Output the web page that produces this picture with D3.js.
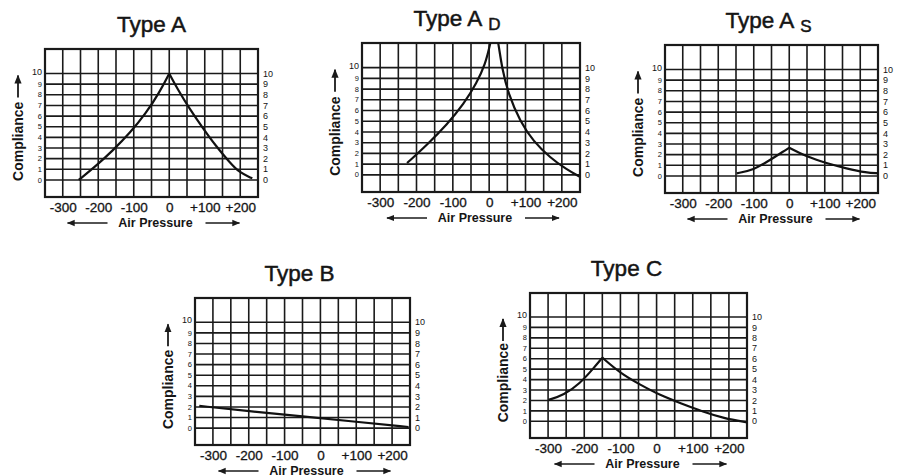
<html>
<head>
  <style>
    body {
      margin: 0;
      background: #ffffff;
    }
    svg text {
      font-family: "Liberation Sans", Arial, Helvetica, sans-serif;
      fill: #151515;
    }
  </style>
</head>
<body>
  <div id="chart"></div>
  <script src="https://d3js.org/d3.v7.min.js"></script>
  <script>
    // tick values shared by all five tympanograms
    var pressureTicks = [-300, -200, -100, 0, 100, 200];
    var complianceTicks = [0, 1, 2, 3, 4, 5, 6, 7, 8, 9, 10];
    var gridPressure = d3.range(-350, 251, 50);

    // curves (air pressure in daPa, compliance units)
    var typeAPressure = [-255, -205, -158, -111, -65, -28, 0, 24, 57, 94, 131, 169, 197, 234];
    var typeACompliance = [0, 1.35, 2.8, 4.4, 6.3, 8.2, 10, 8.5, 6.7, 4.9, 3.2, 1.7, 0.7, 0.15];

    var typeADPressure = [-226, -171, -116, -70, -34, -11, 3, 14, 26, 35, 53, 85, 122, 168, 213, 248];
    var typeADCompliance = [1.1, 2.8, 4.7, 6.6, 8.6, 10.3, 12.2, 14.2, 12.2, 10, 7.5, 5.0, 3.1, 1.6, 0.5, -0.15];

    var typeASPressure = [-148, -101, -54, -17, 0, 49, 105, 161, 218, 250];
    var typeASCompliance = [0.25, 0.55, 1.5, 2.3, 2.65, 1.8, 1.2, 0.7, 0.3, 0.25];

    var typeBPressure = [-338, -200, -50, 100, 246];
    var typeBCompliance = [2.1, 1.6, 1.1, 0.6, 0.1];

    var typeCPressure = [-299, -257, -211, -174, -150, -100, -45, 10, 65, 130, 185, 250];
    var typeCCompliance = [2.05, 2.5, 3.65, 5.1, 6.1, 4.6, 3.5, 2.5, 1.75, 0.9, 0.3, -0.1];

    var panels = [
      { title: "Type A", sub: "", x: 45, y: 49, w: 213, h: 148, dx: 0, px: typeAPressure, py: typeACompliance },
      { title: "Type A", sub: "D", x: 362, y: 43, w: 218, h: 149, dx: -14, px: typeADPressure, py: typeADCompliance },
      { title: "Type A", sub: "S", x: 665, y: 45, w: 213, h: 148, dx: -3, px: typeASPressure, py: typeASCompliance },
      { title: "Type B", sub: "", x: 195, y: 298, w: 215, h: 147, dx: -3, px: typeBPressure, py: typeBCompliance },
      { title: "Type C", sub: "", x: 530, y: 293, w: 217, h: 145, dx: -12, px: typeCPressure, py: typeCCompliance }
    ];

    var width = 897,
        height = 476,
        ink = "#1a1a1a";

    var svg = d3.select("#chart")
      .append("svg")
      .attr("width", width)
      .attr("height", height);

    var defs = svg.append("defs");
    defs.append("marker")
      .attr("id", "head")
      .attr("viewBox", "0 0 10 10")
      .attr("refX", 9)
      .attr("refY", 5)
      .attr("markerWidth", 5)
      .attr("markerHeight", 5)
      .attr("orient", "auto")
      .append("path")
      .attr("d", "M0,1 L10,5 L0,9 Z")
      .attr("fill", ink);

    panels.forEach(function (p, i) {
      var x = d3.scaleLinear().domain([-350, 250]).range([0, p.w]);
      var y = d3.scaleLinear().domain([-1.6, 12.3]).range([p.h, 0]);

      var g = svg.append("g").attr("transform", "translate(" + p.x + "," + p.y + ")");

      defs.append("clipPath")
        .attr("id", "clip" + i)
        .append("rect")
        .attr("width", p.w)
        .attr("height", p.h);

      // grid
      g.selectAll(".vline")
        .data(gridPressure)
        .enter().append("line")
        .attr("x1", function (d) { return x(d); })
        .attr("x2", function (d) { return x(d); })
        .attr("y1", 0)
        .attr("y2", p.h)
        .attr("stroke", ink)
        .attr("stroke-width", 1.6);

      g.selectAll(".hline")
        .data(complianceTicks)
        .enter().append("line")
        .attr("x1", 0)
        .attr("x2", p.w)
        .attr("y1", function (d) { return y(d); })
        .attr("y2", function (d) { return y(d); })
        .attr("stroke", ink)
        .attr("stroke-width", 1.6);

      g.append("rect")
        .attr("width", p.w)
        .attr("height", p.h)
        .attr("fill", "none")
        .attr("stroke", ink)
        .attr("stroke-width", 2.2);

      // left and right compliance labels
      g.selectAll(".ly")
        .data(complianceTicks)
        .enter().append("text")
        .attr("x", -3)
        .attr("y", function (d) { return y(d) - (d == 10 ? 2 : 0); })
        .attr("dy", "0.35em")
        .attr("text-anchor", "end")
        .attr("font-size", function (d) { return d == 10 ? 9 : 7.5; })
        .text(function (d) { return d; });

      g.selectAll(".ry")
        .data(complianceTicks)
        .enter().append("text")
        .attr("x", 5)
        .attr("y", function (d) { return y(d); })
        .attr("transform", "translate(" + p.w + ",0)")
        .attr("dy", "0.35em")
        .attr("font-size", 9)
        .text(function (d) { return d; });

      // bottom axis labels
      var axis = d3.axisBottom(x)
        .tickValues(pressureTicks)
        .tickSize(0)
        .tickPadding(5)
        .tickFormat(function (d) { return d > 0 ? "+" + d : String(d); });

      var ax = g.append("g")
        .attr("transform", "translate(0," + p.h + ")")
        .call(axis);
      ax.select(".domain").remove();
      ax.selectAll("text")
        .attr("font-size", 13.5)
        .attr("font-family", "'Liberation Sans', Arial, sans-serif")
        .attr("fill", "#151515")
        .attr("stroke", "#151515")
        .attr("stroke-width", 0.3);

      var cx = p.w / 2;
      g.append("text")
        .attr("x", cx + 4)
        .attr("y", p.h + 30)
        .attr("text-anchor", "middle")
        .attr("font-size", 12.5)
        .attr("font-weight", "bold")
        .text("Air Pressure");

      g.append("line")
        .attr("x1", cx - 44).attr("x2", cx - 84)
        .attr("y1", p.h + 26).attr("y2", p.h + 26)
        .attr("stroke", ink).attr("stroke-width", 1.6)
        .attr("marker-end", "url(#head)");
      g.append("line")
        .attr("x1", cx + 54).attr("x2", cx + 88)
        .attr("y1", p.h + 26).attr("y2", p.h + 26)
        .attr("stroke", ink).attr("stroke-width", 1.6)
        .attr("marker-end", "url(#head)");

      // compliance label with up arrow
      g.append("text")
        .attr("transform", "translate(-22," + (y(0) + 1) + ") rotate(-90)")
        .attr("font-size", 14)
        .attr("font-weight", "bold")
        .text("Compliance");

      g.append("line")
        .attr("x1", -27).attr("x2", -27)
        .attr("y1", y(10) + 24).attr("y2", y(10) + 2)
        .attr("stroke", ink).attr("stroke-width", 1.8)
        .attr("marker-end", "url(#head)");

      // title
      var t = g.append("text")
        .attr("x", cx + p.dx)
        .attr("y", -17)
        .attr("text-anchor", "middle")
        .attr("font-size", 22.5)
        .attr("stroke", "#151515")
        .attr("stroke-width", 0.5)
        .text(p.title);
      if (p.sub) {
        t.append("tspan")
          .attr("dx", 6)
          .attr("dy", 4)
          .attr("font-size", 17)
          .text(p.sub);
      }

      // curve, drawn as two branches either side of the peak
      var pts = p.px.map(function (v, k) { return [v, p.py[k]]; });
      var top = d3.maxIndex(p.py);
      var branches = top > 0 ? [pts.slice(0, top + 1), pts.slice(top)] : [pts];

      var line = d3.line()
        .x(function (d) { return x(d[0]); })
        .y(function (d) { return y(d[1]); })
        .curve(d3.curveBasis);

      g.append("g")
        .attr("clip-path", "url(#clip" + i + ")")
        .selectAll("path")
        .data(branches)
        .enter().append("path")
        .attr("d", line)
        .attr("fill", "none")
        .attr("stroke", "#111")
        .attr("stroke-width", 2.2);
    });
  </script>
</body>
</html>
